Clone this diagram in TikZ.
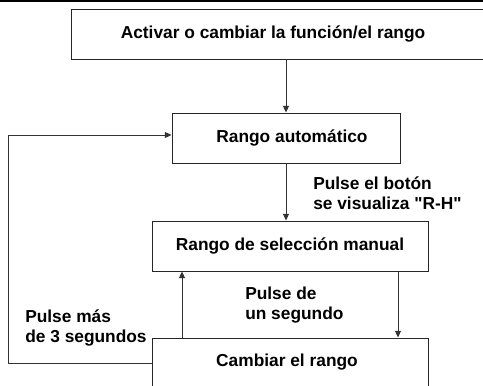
\documentclass[tikz,border=0pt]{standalone}
\usepackage{fontspec}
\setmainfont{Liberation Sans}[Ligatures=TeXOff]
\usepackage{tikz}
\usetikzlibrary{arrows.meta}

\tikzset{
  stage/.style={draw=black!85, line width=0.75pt, minimum height=50*0.75pt, inner sep=0pt},
  txt/.style={font=\fontsize{13}{15}\selectfont\bfseries, inner sep=0pt},
  note/.style={txt, align=left, anchor=west},
  flow/.style={draw=black!80, line width=0.75pt, -{Triangle[length=5pt,width=4.5pt]}}
}

\begin{document}
\begin{tikzpicture}[x=0.75pt, y=-0.75pt]
    \useasboundingbox (0,0) rectangle (483,386);
    \begin{scope}
    \clip (0,0) rectangle (483,386);
    \draw[line width=1.5pt] (0,1) -- (483,1);

    % boxes
    \node[stage, minimum width=430*0.75pt] (activar) at (286,34) {};
    \node[txt] (activartxt) at (273,34) {Activar o cambiar la función/el rango};

    \node[stage, minimum width=228*0.75pt] (auto) at (286,138) {};
    \node[txt] (autotxt) at (292,138) {Rango automático};

    \node[stage, minimum width=276*0.75pt] (manual) at (290,246) {};
    \node[txt] (manualtxt) at (290,246) {Rango de selección manual};

    \node[stage, minimum width=276*0.75pt, minimum height=60*0.75pt] (cambiar) at (290,368) {};
    \node[txt] (cambiartxt) at (287,362) {Cambiar el rango};

    % labels
    \node[note] (boton) at (313,193) {Pulse el botón\\se visualiza "R-H"};
    \node[note] (segundo) at (245,305) {Pulse de\\un segundo};
    \node[note] (tres) at (25,328) {Pulse más\\de 3 segundos};

    % connectors
    \coordinate (loopA) at (8,363);
    \coordinate (loopB) at (8,135);
    \draw[flow] (activar.south -| auto) -- (auto.north);
    \draw[flow] (auto.south) -- (auto.south |- manual.north);
    \draw[flow] (cambiar.north -| 182,0) -- (manual.south -| 182,0);
    \draw[flow] (manual.south -| 398,0) -- (cambiar.north -| 398,0);
    \draw[flow] (cambiar.west |- loopA) -- (loopA) -- (loopB) -- (auto.west |- loopB);
    \end{scope}
\end{tikzpicture}
\end{document}
